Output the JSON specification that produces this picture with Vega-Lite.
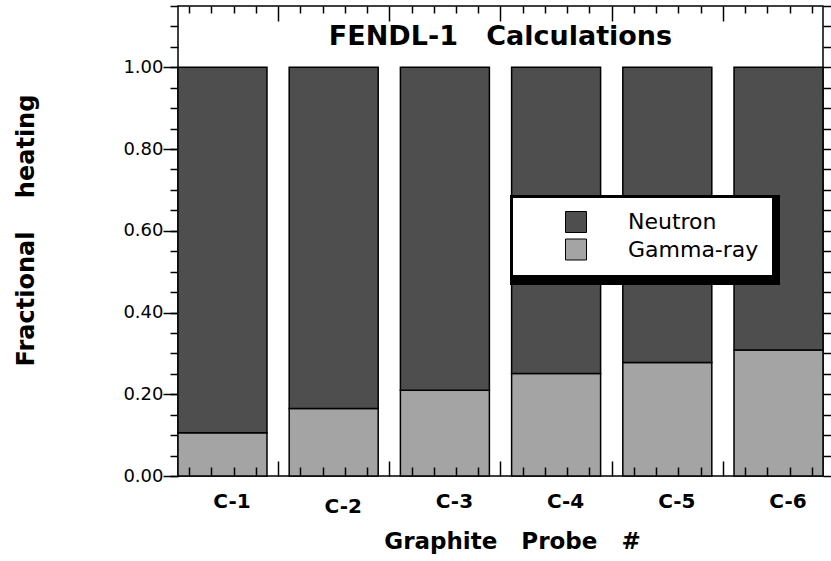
{
  "$schema": "https://vega.github.io/schema/vega-lite/v6.json",
  "width": 645,
  "height": 470,
  "autosize": "none",
  "padding": {"left": 178, "top": 6, "right": 8, "bottom": 85},
  "background": "white",
  "title": {
    "text": "FENDL-1\u00a0\u00a0\u00a0Calculations",
    "frame": "group",
    "anchor": "middle",
    "baseline": "alphabetic",
    "offset": -39,
    "dy": 28,
    "font": "DejaVu Sans",
    "fontSize": 27,
    "fontWeight": "bold",
    "color": "black"
  },
  "data": {
    "values": [
      {"probe": 1, "component": "Gamma-ray", "fraction": 0.106},
      {"probe": 1, "component": "Neutron", "fraction": 0.894},
      {"probe": 2, "component": "Gamma-ray", "fraction": 0.165},
      {"probe": 2, "component": "Neutron", "fraction": 0.835},
      {"probe": 3, "component": "Gamma-ray", "fraction": 0.21},
      {"probe": 3, "component": "Neutron", "fraction": 0.79},
      {"probe": 4, "component": "Gamma-ray", "fraction": 0.251},
      {"probe": 4, "component": "Neutron", "fraction": 0.749},
      {"probe": 5, "component": "Gamma-ray", "fraction": 0.278},
      {"probe": 5, "component": "Neutron", "fraction": 0.722},
      {"probe": 6, "component": "Gamma-ray", "fraction": 0.308},
      {"probe": 6, "component": "Neutron", "fraction": 0.692}
    ]
  },
  "layer": [
    {
      "mark": {"type": "bar", "width": 89, "strokeWidth": 1.5},
      "encoding": {
        "x": {
          "field": "probe",
          "type": "quantitative",
          "scale": {"domain": [0.6, 6.4], "nice": false, "zero": false, "padding": 0},
          "axis": {
            "orient": "bottom",
            "values": [1, 2, 3, 4, 5, 6],
            "labelExpr": "'C-' + datum.value",
            "ticks": false,
            "domain": false,
            "grid": false,
            "labelFont": "DejaVu Sans",
            "labelFontWeight": "bold",
            "labelFontSize": 20,
            "labelColor": "black",
            "labelBaseline": "top",
            "labelPadding": {"condition": {"test": "datum.value === 2", "value": 20}, "value": 15},
            "labelOffset": 9,
            "title": "Graphite\u00a0\u00a0\u00a0Probe\u00a0\u00a0\u00a0#",
            "titleFont": "DejaVu Sans",
            "titleFontSize": 23,
            "titleFontWeight": "bold",
            "titleColor": "black",
            "titleBaseline": "alphabetic",
            "titleAlign": "center",
            "titleX": 334,
            "titleY": 72
          }
        },
        "y": {
          "field": "fraction",
          "type": "quantitative",
          "stack": "zero",
          "scale": {"domain": [0, 1.15], "nice": false},
          "axis": {
            "orient": "left",
            "values": [0, 0.2, 0.4, 0.6, 0.8, 1.0],
            "format": ".2f",
            "tickSize": 15,
            "tickWidth": 1.5,
            "tickColor": "black",
            "domain": false,
            "grid": false,
            "labelPadding": 0,
            "labelFont": "DejaVu Sans",
            "labelFontSize": 18,
            "labelColor": "black",
            "title": "Fractional\u00a0\u00a0\u00a0\u00a0heating",
            "titleFont": "DejaVu Sans",
            "titleFontSize": 24,
            "titleFontWeight": "bold",
            "titleColor": "black",
            "titleBaseline": "alphabetic",
            "titleAlign": "center",
            "titleX": -145,
            "titleY": 224
          }
        },
        "fill": {
          "field": "component",
          "type": "nominal",
          "sort": "descending",
          "scale": {"range": ["#4e4e4e", "#a4a4a4"]},
          "legend": {
            "orient": "none",
            "legendX": 335,
            "legendY": 192,
            "title": null,
            "fillColor": "white",
            "padding": 13,
            "symbolType": "square",
            "symbolSize": 441,
            "symbolStrokeColor": "black",
            "symbolStrokeWidth": 1,
            "labelFont": "DejaVu Sans",
            "labelFontSize": 22,
            "labelColor": "black",
            "labelOffset": 41,
            "symbolOffset": 39,
            "rowPadding": 1.5,
            "zindex": 2
          }
        },
        "stroke": {
          "field": "component",
          "type": "nominal",
          "scale": {"domain": ["Neutron", "Gamma-ray"], "range": ["black", "black"]},
          "legend": {
            "orient": "none",
            "legendX": 332,
            "legendY": 189,
            "title": null,
            "fillColor": "black",
            "strokeColor": "black",
            "padding": 18,
            "symbolType": "square",
            "symbolSize": 441,
            "symbolFillColor": "black",
            "labelFont": "DejaVu Sans",
            "labelFontSize": 22,
            "labelColor": "black",
            "labelOffset": 41,
            "symbolOffset": 39,
            "rowPadding": 1.5,
            "zindex": 1
          }
        },
        "order": {"field": "component", "sort": "ascending"}
      }
    },
    {
      "mark": {"type": "point", "opacity": 0},
      "encoding": {
        "x": {
          "field": "probe",
          "type": "quantitative",
          "scale": {"domain": [0.6, 6.4], "nice": false, "zero": false, "padding": 0},
          "axis": {
            "orient": "bottom",
            "values": [0.7, 0.9, 1.1, 1.3, 1.5, 1.7, 1.9, 2.1, 2.3, 2.5, 2.7, 2.9, 3.1, 3.3, 3.5, 3.7, 3.9, 4.1, 4.3, 4.5, 4.7, 4.9, 5.1, 5.3, 5.5, 5.7, 5.9, 6.1, 6.3],
            "labels": false,
            "domain": false,
            "grid": false,
            "title": null,
            "tickColor": "black",
            "tickWidth": 1.5,
            "tickSize": {"condition": {"test": "abs(datum.value - floor(datum.value) - 0.5) < 0.01", "value": -15}, "value": -9},
            "zindex": 1
          }
        },
        "y": {
          "field": "fraction",
          "type": "quantitative",
          "scale": {"domain": [0, 1.15], "nice": false},
          "axis": {
            "orient": "left",
            "values": [0, 0.05, 0.1, 0.15, 0.2, 0.25, 0.3, 0.35, 0.4, 0.45, 0.5, 0.55, 0.6, 0.65, 0.7, 0.75, 0.8, 0.85, 0.9, 0.95, 1.0, 1.05, 1.1, 1.15],
            "labels": false,
            "domain": false,
            "grid": false,
            "title": null,
            "tickSize": 8,
            "tickColor": "black",
            "tickWidth": 1.5
          }
        }
      }
    },
    {
      "mark": {"type": "point", "opacity": 0},
      "encoding": {
        "x": {
          "field": "probe",
          "type": "quantitative",
          "scale": {"domain": [0.6, 6.4], "nice": false, "zero": false, "padding": 0},
          "axis": {
            "orient": "top",
            "values": [0.7, 0.9, 1.1, 1.3, 1.5, 1.7, 1.9, 2.1, 2.3, 2.5, 2.7, 2.9, 3.1, 3.3, 3.5, 3.7, 3.9, 4.1, 4.3, 4.5, 4.7, 4.9, 5.1, 5.3, 5.5, 5.7, 5.9, 6.1, 6.3],
            "labels": false,
            "domain": false,
            "grid": false,
            "title": null,
            "tickColor": "black",
            "tickWidth": 1.5,
            "tickSize": {"condition": {"test": "abs(datum.value - floor(datum.value) - 0.5) < 0.01", "value": -15}, "value": -7},
            "zindex": 1
          }
        },
        "y": {
          "field": "fraction",
          "type": "quantitative",
          "scale": {"domain": [0, 1.15], "nice": false},
          "axis": {
            "orient": "right",
            "values": [0, 0.05, 0.1, 0.15, 0.2, 0.25, 0.3, 0.35, 0.4, 0.45, 0.5, 0.55, 0.6, 0.65, 0.7, 0.75, 0.8, 0.85, 0.9, 0.95, 1.0, 1.05, 1.1, 1.15],
            "labels": false,
            "domain": false,
            "grid": false,
            "title": null,
            "tickSize": 8,
            "tickColor": "black",
            "tickWidth": 1.5
          }
        }
      }
    }
  ],
  "resolve": {"axis": {"x": "independent", "y": "independent"}},
  "config": {
    "view": {"stroke": "black", "strokeWidth": 1.5},
    "legend": {"strokeWidth": 0}
  }
}
